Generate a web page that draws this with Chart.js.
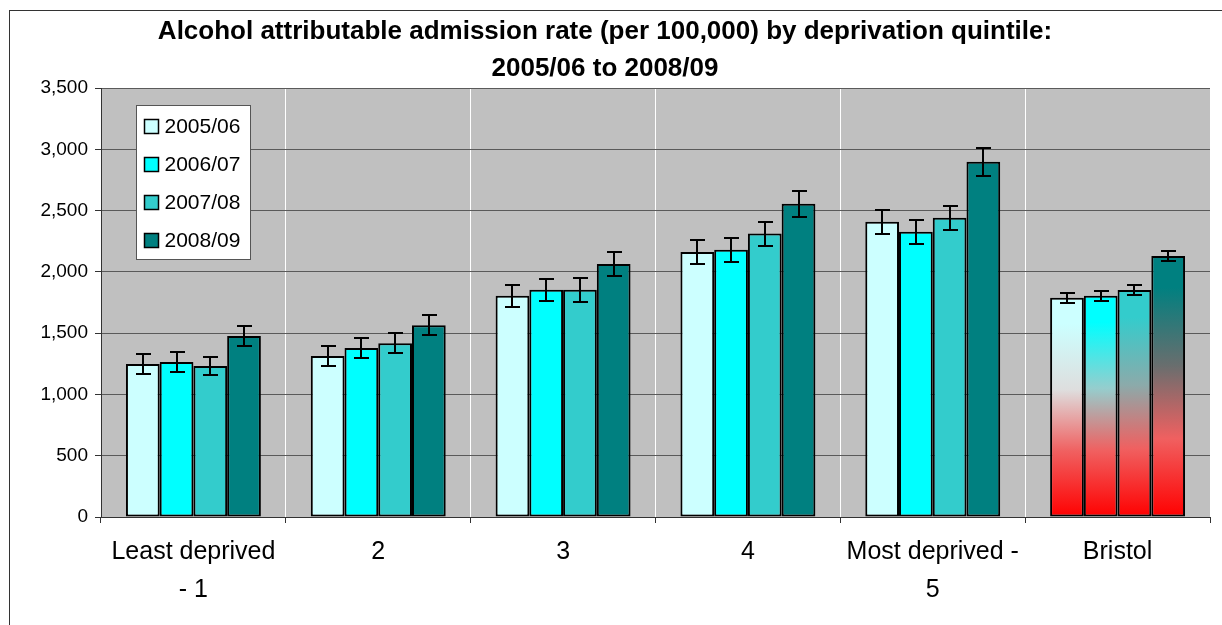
<!DOCTYPE html>
<html lang="en">
  <head>
    <meta charset="UTF-8" />
    <title>alcohol admissions</title>
    <script src="https://cdn.jsdelivr.net/npm/chart.js@4/dist/chart.umd.min.js"></script>
    <style>
      html, body { margin: 0; padding: 0; background: #fff; }
      #wrap { width: 1222px; height: 625px; position: relative; }
    </style>
  </head>
  <body>
    <div id="wrap"><canvas id="alcoholChart"></canvas></div>
    <script>
      const categories = [["Least deprived", "- 1"], "2", "3", "4", ["Most deprived -", "5"], "Bristol"];
      const seriesLabels = ["2005/06", "2006/07", "2007/08", "2008/09"];
      const rate0506 = [1248, 1314, 1806, 2162, 2409, 1789];
      const rate0607 = [1265, 1379, 1855, 2181, 2328, 1806];
      const rate0708 = [1232, 1417, 1855, 2312, 2442, 1852];
      const rate0809 = [1477, 1564, 2064, 2556, 2899, 2130];
      // half width of the confidence interval
      const err0506 = [82, 82, 90, 98, 98, 41];
      const err0607 = [82, 82, 90, 98, 98, 41];
      const err0708 = [74, 82, 98, 98, 98, 41];
      const err0809 = [82, 82, 98, 106, 114, 41];
      const yTicks = [0, 500, 1000, 1500, 2000, 2500, 3000, 3500];

      const colors = ["#CCFFFF", "#00FFFF", "#33CCCC", "#008080"];
      const midColors = ["#DEDEDE", "#96CDCD", "#8CAAAA", "#696E6E"];
      const FONT = "'Liberation Sans', Arial, sans-serif";

      // Bristol bars: series colour at top fading to red at the bottom
      function bristolFill(i) {
        return function (ctx) {
          if (ctx.type !== "data" || ctx.dataIndex !== 5) return colors[i];
          const chart = ctx.chart;
          const ys = chart.scales.y;
          if (!ys) return colors[i];
          const top = ys.getPixelForValue(ctx.raw);
          const bottom = ys.getPixelForValue(0);
          if (!isFinite(top) || !isFinite(bottom) || top === bottom) return colors[i];
          const g = chart.ctx.createLinearGradient(0, top, 0, bottom);
          g.addColorStop(0, colors[i]);
          g.addColorStop(0.12, colors[i]);
          g.addColorStop(0.42, midColors[i]);
          g.addColorStop(0.7, "#F06060");
          g.addColorStop(1, "#FF0000");
          return g;
        };
      }

      const rates = [rate0506, rate0607, rate0708, rate0809];
      const errs = [err0506, err0607, err0708, err0809];

      const plotBg = {
        id: "plotBg",
        beforeDraw(chart) {
          const a = chart.chartArea;
          const c = chart.ctx;
          c.save();
          c.fillStyle = "#C0C0C0";
          c.fillRect(a.left, a.top, a.right - a.left, a.bottom - a.top);
          c.restore();
        },
        afterDraw(chart) {
          const c = chart.ctx;
          c.save();
          c.strokeStyle = "#333";
          c.lineWidth = 1;
          c.strokeRect(9.5, 10.5, 1300, 700);
          c.restore();
        },
      };

      const errorBars = {
        id: "errorBars",
        afterDatasetsDraw(chart) {
          const c = chart.ctx;
          const ys = chart.scales.y;
          c.save();
          c.strokeStyle = "#000";
          c.lineWidth = 2;
          chart.data.datasets.forEach(function (ds, i) {
            const meta = chart.getDatasetMeta(i);
            meta.data.forEach(function (bar, j) {
              const v = ds.data[j];
              const e = errs[i][j];
              const yHi = Math.round(ys.getPixelForValue(v + e));
              const yLo = Math.round(ys.getPixelForValue(v - e));
              const x = Math.round(bar.x);
              c.beginPath();
              c.moveTo(x, yHi);
              c.lineTo(x, yLo);
              c.moveTo(x - 7, yHi);
              c.lineTo(x + 8, yHi);
              c.moveTo(x - 7, yLo);
              c.lineTo(x + 8, yLo);
              c.stroke();
            });
          });
          c.restore();
        },
      };

      const boxLegend = {
        id: "boxLegend",
        afterDatasetsDraw(chart) {
          const c = chart.ctx;
          const a = chart.chartArea;
          const left = a.left + 35.5;
          const top = a.top + 17.5;
          c.save();
          c.fillStyle = "#fff";
          c.fillRect(left, top, 114, 154);
          c.strokeStyle = "#555";
          c.lineWidth = 1;
          c.strokeRect(left, top, 114, 154);
          c.font = "21px " + FONT;
          c.textBaseline = "middle";
          chart.data.datasets.forEach(function (ds, i) {
            const cy = top + 21 + i * 38;
            c.fillStyle = colors[i];
            c.fillRect(left + 8, cy - 7, 14, 14);
            c.strokeStyle = "#000";
            c.lineWidth = 1.5;
            c.strokeRect(left + 8, cy - 7, 14, 14);
            c.fillStyle = "#000";
            c.fillText(ds.label, left + 28, cy + 1);
          });
          c.restore();
        },
      };

      const ctx = document.querySelector("#alcoholChart").getContext("2d");
      const myChart = new Chart(ctx, {
        type: "bar",
        data: {
          labels: categories,
          datasets: seriesLabels.map(function (name, i) {
            return {
              label: name,
              data: rates[i],
              backgroundColor: bristolFill(i),
              borderColor: "#000",
              borderWidth: 2,
              borderSkipped: false,
              categoryPercentage: 0.73,
              barPercentage: 1.0,
            };
          }),
        },
        options: {
          responsive: true,
          maintainAspectRatio: false,
          animation: false,
          layout: { padding: { top: 14, right: 12, bottom: 0, left: 0 } },
          plugins: {
            legend: { display: false },
            tooltip: { enabled: false },
            title: {
              display: true,
              text: ["Alcohol attributable admission rate (per 100,000) by deprivation quintile:", "2005/06 to 2008/09"],
              color: "#000",
              font: { family: FONT, size: 26, weight: "bold", lineHeight: 1.4 },
              padding: { top: 0, bottom: 1.2 },
            },
          },
          scales: {
            x: {
              offset: true,
              grid: {
                offset: true,
                color: function (c) {
                  if (c.index === 0) return "rgba(0,0,0,0)";
                  if (c.index === categories.length) return "#808080";
                  return "#FFFFFF";
                },
                tickColor: "#333",
                tickLength: 6,
                lineWidth: 1,
              },
              border: { color: "#333", width: 1 },
              ticks: {
                color: "#000",
                padding: 10,
                maxRotation: 0,
                font: { family: FONT, size: 25, lineHeight: 1.52 },
              },
              afterFit(s) { s.height = 108; },
            },
            y: {
              min: 0,
              max: 3500,
              afterBuildTicks(s) { s.ticks = yTicks.map(function (v) { return { value: v }; }); },
              grid: { color: "#5A5A5A", tickColor: "#333", tickLength: 6, lineWidth: 1 },
              border: { color: "#333", width: 1 },
              ticks: {
                color: "#000",
                padding: 7,
                font: { family: FONT, size: 19 },
                callback: function (v) { return v.toLocaleString("en-US"); },
              },
              afterFit(s) { s.width = 101; },
            },
          },
        },
        plugins: [plotBg, errorBars, boxLegend],
      });
    </script>
  </body>
</html>
